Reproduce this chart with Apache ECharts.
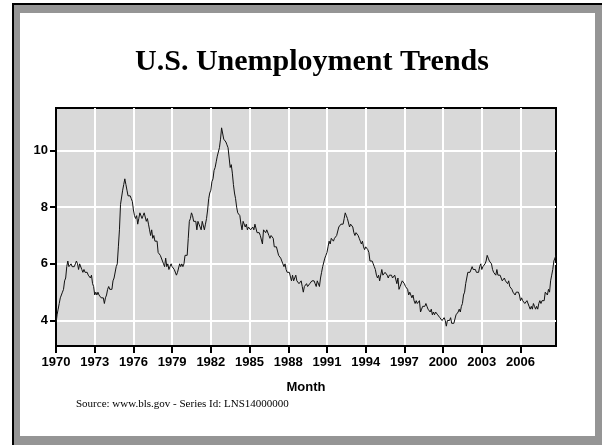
<!DOCTYPE html>
<html>
<head>
<meta charset="utf-8">
<script src="https://cdn.jsdelivr.net/npm/echarts@6/dist/echarts.min.js"></script>
<style>
html,body{margin:0;padding:0;background:#fff;}
#chart{width:602px;height:445px;}
</style>
</head>
<body>
<div id="chart"></div>
<script>
// Monthly U.S. unemployment rate (%), seasonally adjusted, LNS14000000
const startYear = 1970;
const rate1970s = [
  3.9,4.2,4.4,4.6,4.8,4.9,5.0,5.1,5.4,5.5,5.9,6.1,
  5.9,5.9,6.0,5.9,5.9,5.9,6.0,6.1,6.0,5.8,6.0,6.0,
  5.8,5.7,5.8,5.7,5.7,5.7,5.6,5.6,5.5,5.6,5.3,5.2,
  4.9,5.0,4.9,5.0,4.9,4.9,4.8,4.8,4.8,4.6,4.8,4.9,
  5.1,5.2,5.1,5.1,5.1,5.4,5.5,5.5,5.9,6.0,6.6,7.2,
  8.1,8.1,8.6,8.8,9.0,8.8,8.6,8.4,8.4,8.4,8.3,8.2,
  7.9,7.7,7.6,7.7,7.4,7.6,7.8,7.8,7.6,7.7,7.8,7.8,
  7.5,7.6,7.4,7.2,7.0,7.2,6.9,7.0,6.8,6.8,6.8,6.4,
  6.4,6.3,6.3,6.1,6.0,5.9,6.2,5.9,6.0,5.8,5.9,6.0,
  5.9,5.9,5.8,5.8,5.6,5.7,5.7,6.0,5.9,6.0,5.9,6.0
];
const rate1980s = [
  6.3,6.3,6.3,6.9,7.5,7.6,7.8,7.7,7.5,7.5,7.5,7.2,
  7.5,7.4,7.4,7.2,7.5,7.5,7.2,7.4,7.6,7.9,8.3,8.5,
  8.6,8.9,9.0,9.3,9.4,9.6,9.8,9.8,10.1,10.4,10.8,10.8,
  10.4,10.4,10.3,10.2,10.1,10.1,9.4,9.5,9.2,8.8,8.5,8.3,
  8.0,7.8,7.8,7.7,7.4,7.2,7.5,7.5,7.3,7.4,7.2,7.3,
  7.3,7.2,7.2,7.3,7.2,7.4,7.4,7.1,7.1,7.1,7.0,7.0,
  6.7,7.2,7.2,7.1,7.2,7.2,7.0,6.9,7.0,7.0,6.9,6.6,
  6.6,6.6,6.6,6.3,6.3,6.2,6.1,6.0,5.9,6.0,5.8,5.7,
  5.7,5.7,5.7,5.4,5.6,5.4,5.4,5.6,5.4,5.4,5.3,5.3,
  5.4,5.2,5.0,5.2,5.2,5.3,5.2,5.2,5.3,5.3,5.4,5.4
];
const rate1990s = [
  5.4,5.3,5.2,5.4,5.4,5.2,5.5,5.7,5.9,5.9,6.2,6.3,
  6.4,6.6,6.8,6.7,6.9,6.9,6.8,6.9,6.9,7.0,7.0,7.3,
  7.3,7.4,7.4,7.4,7.6,7.8,7.7,7.6,7.6,7.3,7.4,7.4,
  7.3,7.1,7.0,7.1,7.1,7.0,6.9,6.8,6.7,6.8,6.6,6.5,
  6.6,6.6,6.5,6.4,6.1,6.1,6.1,6.0,5.9,5.8,5.6,5.5,
  5.6,5.4,5.4,5.8,5.6,5.6,5.7,5.7,5.6,5.5,5.6,5.6,
  5.6,5.5,5.5,5.6,5.6,5.3,5.5,5.1,5.2,5.2,5.4,5.4,
  5.3,5.2,5.2,5.1,4.9,5.0,4.9,4.8,4.9,4.7,4.6,4.7,
  4.6,4.6,4.7,4.3,4.4,4.5,4.5,4.5,4.6,4.5,4.4,4.4,
  4.3,4.4,4.2,4.3,4.2,4.3,4.3,4.2,4.2,4.1,4.1,4.0
];
const rate2000s = [
  4.0,4.1,4.0,3.8,4.0,4.0,4.0,4.1,3.9,3.9,3.9,3.9,
  4.2,4.2,4.3,4.4,4.3,4.5,4.6,4.9,5.0,5.3,5.5,5.7,
  5.7,5.7,5.7,5.9,5.8,5.8,5.8,5.7,5.7,5.7,5.9,6.0,
  5.8,5.9,5.9,6.0,6.1,6.3,6.2,6.1,6.1,6.0,5.8,5.7,
  5.7,5.6,5.8,5.6,5.6,5.6,5.5,5.4,5.4,5.5,5.4,5.4,
  5.3,5.4,5.2,5.2,5.1,5.0,5.0,4.9,5.0,5.0,5.0,4.9,
  4.7,4.8,4.7,4.7,4.6,4.6,4.7,4.7,4.5,4.4,4.5,4.4,
  4.6,4.5,4.4,4.5,4.4,4.6,4.7,4.6,4.7,4.7,4.7,5.0,
  5.0,4.9,5.1,5.0,5.4,5.6,5.8,6.1,6.1,6.3
];
const yTickValues = [4, 6, 8, 10];
const labelStepYears = 3;

const rates = rate1970s.concat(rate1980s, rate1990s, rate2000s);
const months = rates.map((_, i) => {
  const y = startYear + Math.floor(i / 12);
  const m = (i % 12) + 1;
  return y + '-' + (m < 10 ? '0' + m : m);
});
function isLabelMonth(idx, val) {
  return val.slice(5) === '01' && (parseInt(val.slice(0, 4), 10) - startYear) % labelStepYears === 0;
}

const chart = echarts.init(document.getElementById('chart'), null, {renderer: 'canvas'});
chart.setOption({
  backgroundColor: '#ffffff',
  animation: false,
  title: {
    text: 'U.S. Unemployment Trends',
    left: 307, top: 42, textAlign: 'center',
    textStyle: {fontFamily: 'Liberation Serif', fontWeight: 'bold', fontSize: 30, color: '#000'}
  },
  graphic: [
    {type: 'rect', z: 100, shape: {x: 14, y: 5, width: 6, height: 440}, style: {fill: '#959595'}},
    {type: 'rect', z: 100, shape: {x: 14, y: 5, width: 588, height: 8}, style: {fill: '#959595'}},
    {type: 'rect', z: 100, shape: {x: 595, y: 5, width: 7, height: 440}, style: {fill: '#959595'}},
    {type: 'rect', z: 100, shape: {x: 14, y: 436, width: 588, height: 9}, style: {fill: '#959595'}},
    {type: 'line', z: 101, shape: {x1: 13, y1: 4, x2: 13, y2: 445}, style: {stroke: '#000', lineWidth: 2}},
    {type: 'line', z: 101, shape: {x1: 12, y1: 4, x2: 602, y2: 4}, style: {stroke: '#000', lineWidth: 2}},
    {type: 'text', z: 100, left: 76, top: 399,
     style: {text: 'Source: www.bls.gov - Series Id: LNS14000000', font: '11px "Liberation Serif"', fill: '#000'}}
  ],
  grid: {
    left: 56, right: 46, top: 108, bottom: 99,
    show: true, backgroundColor: '#d9d9d9', borderColor: '#000', borderWidth: 2,
    containLabel: false
  },
  xAxis: {
    type: 'category',
    data: months,
    boundaryGap: false,
    name: 'Month',
    nameLocation: 'middle',
    nameGap: 35,
    nameTextStyle: {fontFamily: 'Liberation Sans', fontWeight: 'bold', fontSize: 13, color: '#000'},
    axisLine: {lineStyle: {color: '#000', width: 2}},
    axisTick: {show: true, interval: isLabelMonth, length: 7, lineStyle: {color: '#000', width: 2}},
    axisLabel: {interval: isLabelMonth, formatter: v => v.slice(0, 4), margin: 10,
      fontFamily: 'Liberation Sans', fontWeight: 'bold', fontSize: 13, color: '#000'},
    splitLine: {show: true, interval: isLabelMonth, lineStyle: {color: '#fff', width: 2}}
  },
  yAxis: {
    type: 'value',
    min: 3.1, max: 11.5,
    splitNumber: 4,
    axisLine: {show: true, lineStyle: {color: '#000', width: 2}},
    axisTick: {show: true, length: 6, customValues: yTickValues, lineStyle: {color: '#000', width: 2}},
    axisLabel: {customValues: yTickValues, margin: 8,
      fontFamily: 'Liberation Sans', fontWeight: 'bold', fontSize: 13, color: '#000'},
    splitLine: {show: true, lineStyle: {color: '#fff', width: 2}}
  },
  series: [{
    type: 'line',
    data: rates,
    showSymbol: false,
    symbol: 'none',
    lineStyle: {color: '#111', width: 1},
    z: 5
  }]
});
</script>
</body>
</html>
